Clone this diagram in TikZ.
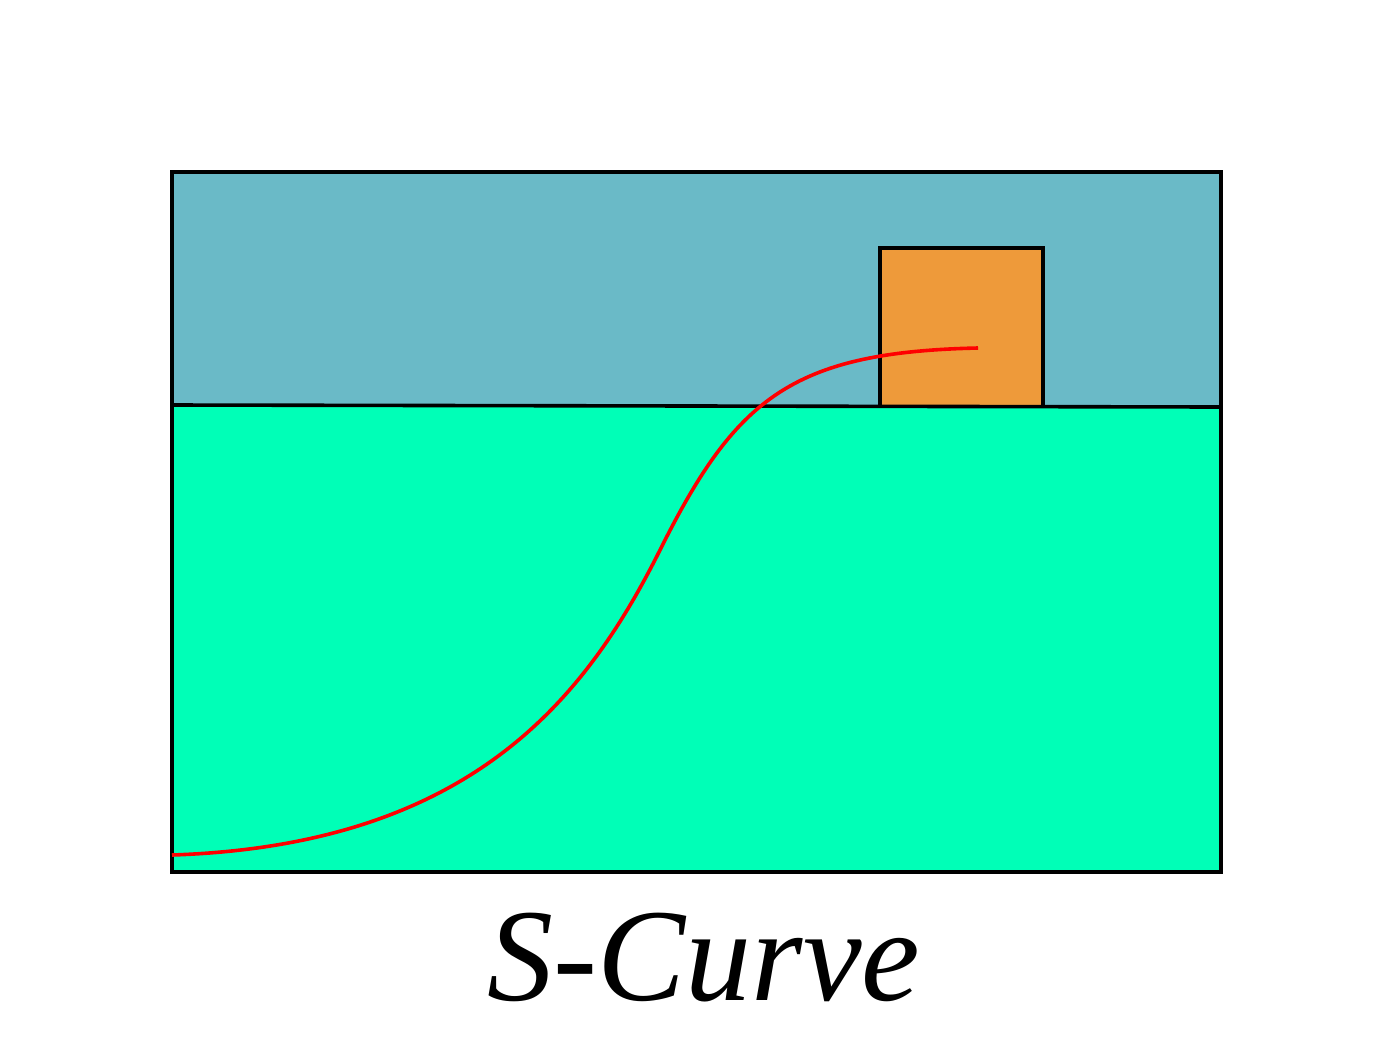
\documentclass[tikz,border=0pt]{standalone}
\usepackage{fontspec}
\newfontfamily\captionfont{Liberation Serif Italic}
\definecolor{skyblue}{HTML}{6ABAC7}
\definecolor{seagreen}{HTML}{00FFB7}
\definecolor{boxorange}{HTML}{EE9A3A}
\begin{document}
\begin{tikzpicture}[x=0.5pt,y=-0.5pt,
  outline/.style={draw=black,line width=1.8pt},
  scurve/.style={draw=red,line width=1.8pt}]
\useasboundingbox[fill=white] (0,0) rectangle (1400,1050);
% panels
\fill[skyblue] (172,172) rectangle (1221,406);
\fill[seagreen] (172,406) rectangle (1221,872);
\draw[outline,fill=boxorange] (880,406) -- (880,248) -- (1043,248) -- (1043,406);
\draw[outline] (172,405) -- (1221,407);
\draw[outline] (172,172) rectangle (1221,872);
% S-curve
\draw[scurve] (172,855) .. controls (470,845) and (585,700) .. (660,550)
  .. controls (735,400) and (790,352) .. (978,348);
% label
\node[font=\captionfont\fontsize{66}{78}\selectfont,anchor=base] (label) at (704,1000) {S-Curve};
\end{tikzpicture}
\end{document}
